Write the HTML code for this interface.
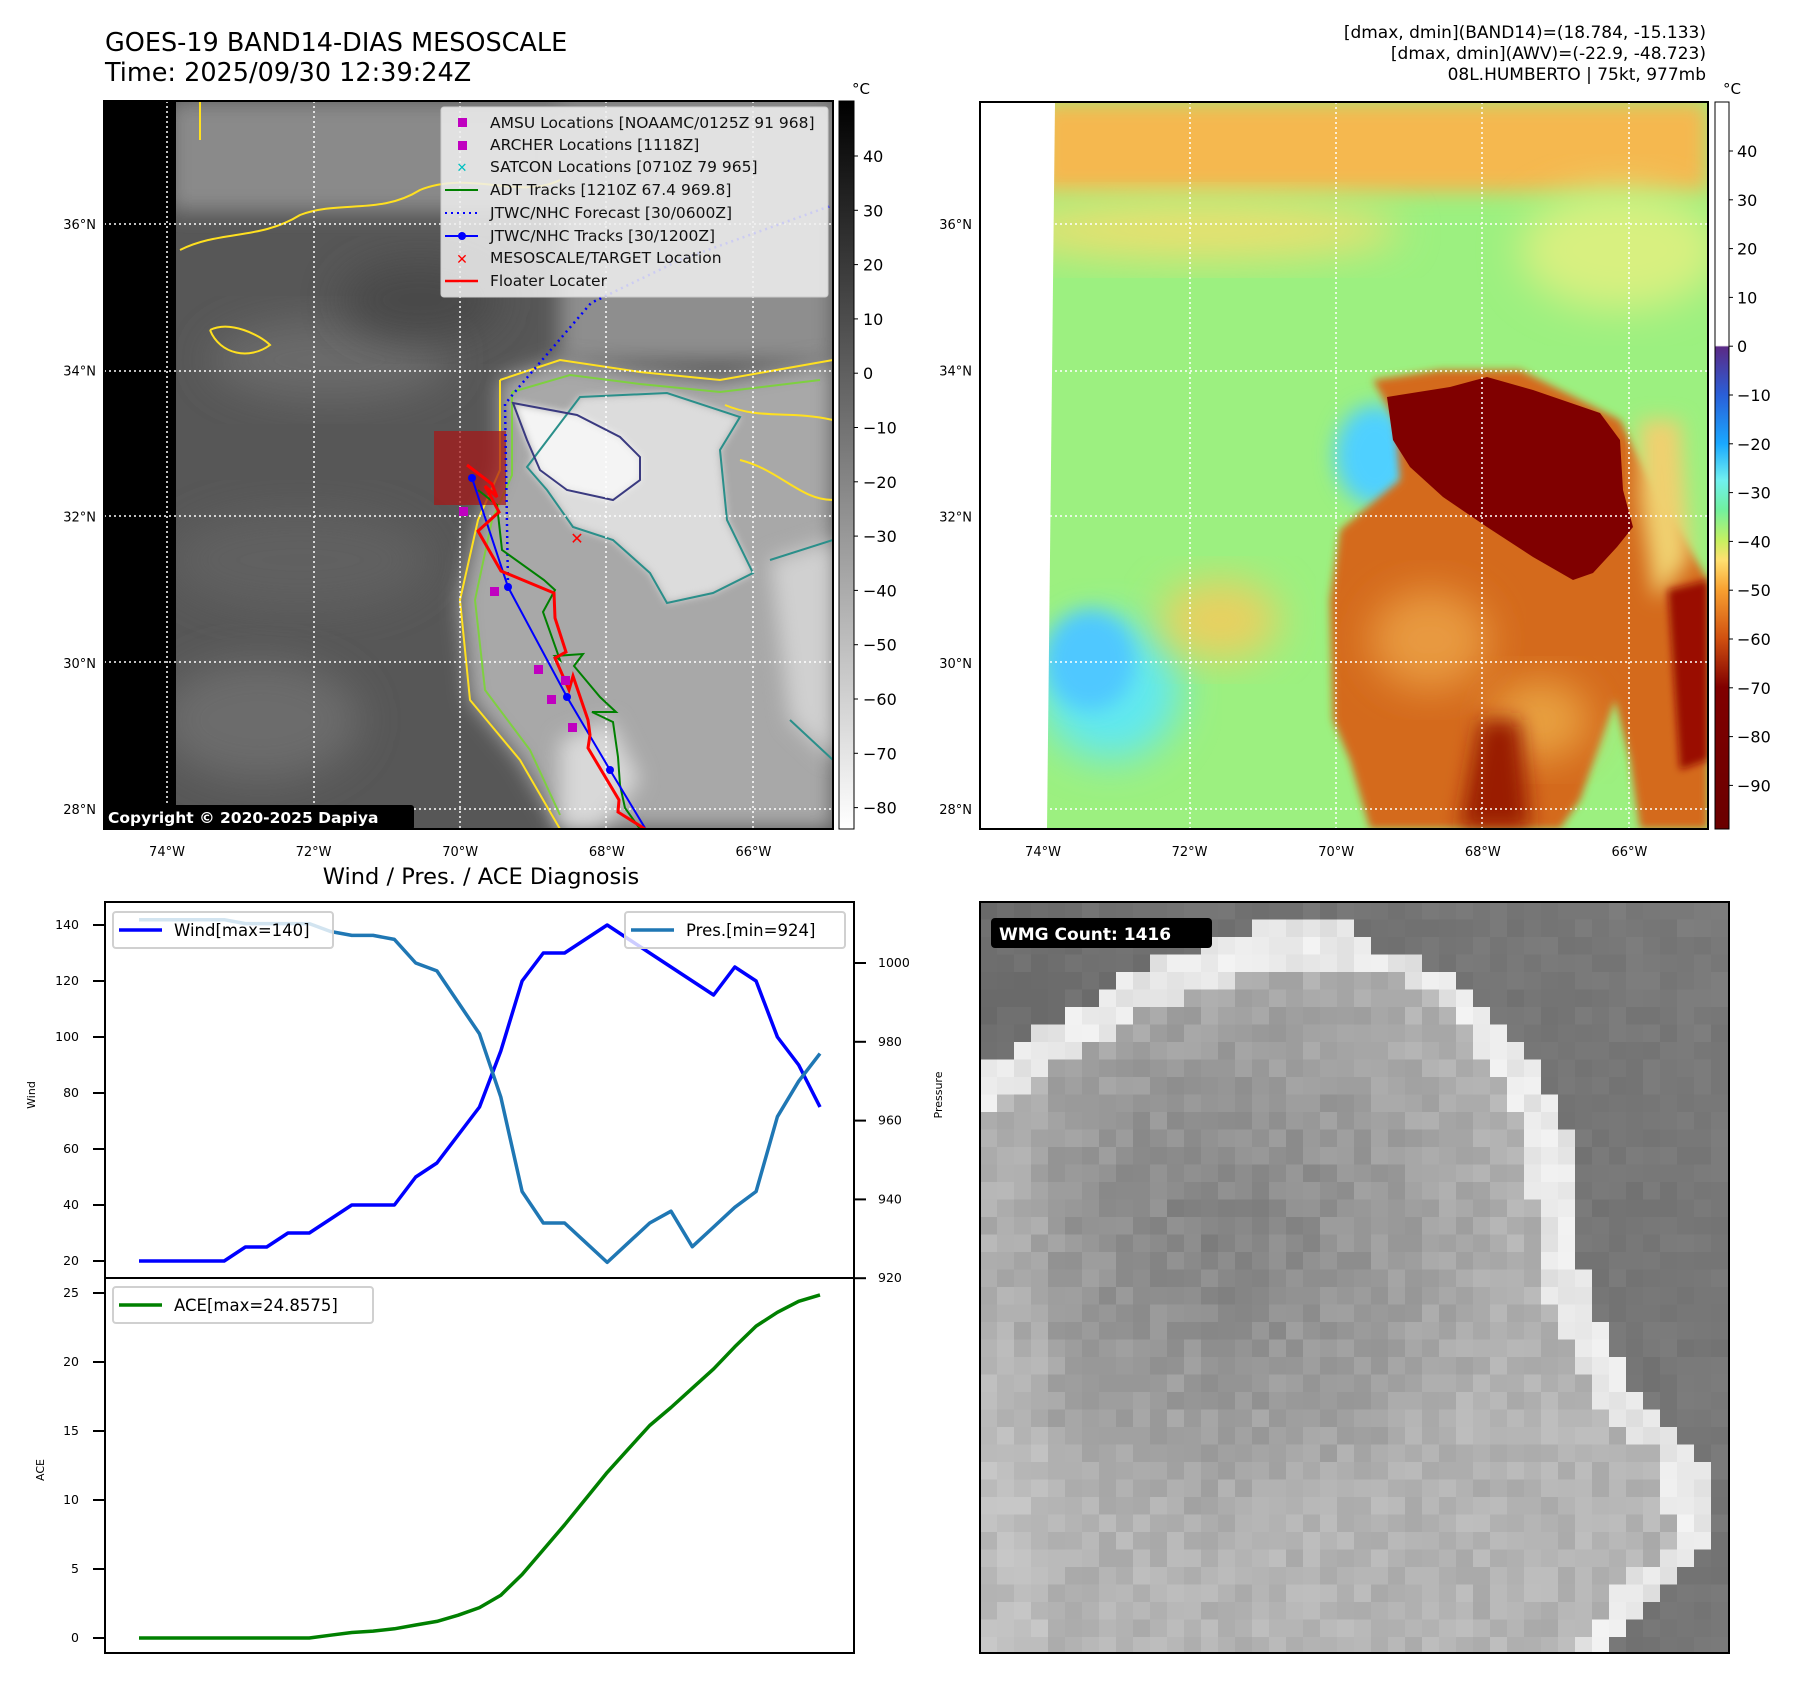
<!DOCTYPE html>
<html><head><meta charset="utf-8">
<style>
html,body{margin:0;padding:0;background:#fff;}
body{width:1797px;height:1690px;position:relative;overflow:hidden;font-family:"DejaVu Sans","Liberation Sans",sans-serif;}
svg text{font-family:"DejaVu Sans","Liberation Sans",sans-serif;}
</style></head>
<body>
<svg id="fig" width="1797" height="1690" viewBox="0 0 1797 1690" xmlns="http://www.w3.org/2000/svg">
<defs>
  <filter id="b4" x="-20%" y="-20%" width="140%" height="140%"><feGaussianBlur stdDeviation="4"/></filter>
  <filter id="b10" x="-30%" y="-30%" width="160%" height="160%"><feGaussianBlur stdDeviation="10"/></filter>
  <filter id="b20" x="-30%" y="-30%" width="160%" height="160%"><feGaussianBlur stdDeviation="20"/></filter>
  <clipPath id="c1"><rect x="104" y="101" width="729" height="728"/></clipPath>
  <clipPath id="c2"><rect x="980" y="102" width="728" height="727"/></clipPath>
  <clipPath id="c3"><rect x="980" y="902" width="749" height="751"/></clipPath>
  <linearGradient id="gGray" x1="0" y1="0" x2="0" y2="1"><stop offset="0" stop-color="#000"/><stop offset="1" stop-color="#fff"/></linearGradient>
  <linearGradient id="gJet" x1="0" y1="0" x2="0" y2="1">
    <stop offset="0" stop-color="#fff"/><stop offset="0.335" stop-color="#fff"/>
    <stop offset="0.337" stop-color="#5b2a86"/><stop offset="0.403" stop-color="#2a5fd8"/>
    <stop offset="0.47" stop-color="#1aa8ff"/><stop offset="0.52" stop-color="#70f0f0"/>
    <stop offset="0.56" stop-color="#70f0a0"/><stop offset="0.604" stop-color="#c8f060"/>
    <stop offset="0.63" stop-color="#ffe070"/><stop offset="0.671" stop-color="#f8a030"/>
    <stop offset="0.738" stop-color="#d05010"/><stop offset="0.805" stop-color="#800000"/>
    <stop offset="1" stop-color="#6a0000"/>
  </linearGradient>
</defs>

<text x="105" y="51" font-size="25.5">GOES-19 BAND14-DIAS MESOSCALE</text>
<text x="105" y="81" font-size="25.5">Time: 2025/09/30 12:39:24Z</text>
<g font-size="17" text-anchor="end">
  <text x="1706" y="38">[dmax, dmin](BAND14)=(18.784, -15.133)</text>
  <text x="1706" y="59">[dmax, dmin](AWV)=(-22.9, -48.723)</text>
  <text x="1706" y="80">08L.HUMBERTO | 75kt, 977mb</text>
</g>

<g clip-path="url(#c1)">
  <rect x="104" y="101" width="729" height="728" fill="#575757"/>
  <rect x="170" y="101" width="663" height="110" fill="#8a8a8a" filter="url(#b10)"/>
  <ellipse cx="330" cy="360" rx="120" ry="40" fill="#6a6a6a" filter="url(#b20)"/>
  <ellipse cx="300" cy="560" rx="130" ry="50" fill="#606060" filter="url(#b20)"/>
  <ellipse cx="260" cy="720" rx="100" ry="60" fill="#6c6c6c" filter="url(#b20)"/>
  <ellipse cx="420" cy="300" rx="80" ry="40" fill="#4a4a4a" filter="url(#b20)"/>
  <rect x="560" y="101" width="273" height="260" fill="#8e8e8e" filter="url(#b10)"/>
  <path d="M500,380 L560,360 L640,372 L720,380 L833,360 L833,829 L560,829 L520,760 L470,700 L460,600 L478,520 L500,470 Z" fill="#a8a8a8" filter="url(#b10)"/>
  <path d="M580,397 L667,393 L740,417 L720,450 L727,520 L753,573 L713,593 L667,603 L650,573 L613,540 L573,527 L547,490 L527,467 Z" fill="#dcdcdc" filter="url(#b4)"/>
  <path d="M770,560 L833,540 L833,760 L790,720 Z" fill="#d0d0d0" filter="url(#b10)"/>
  <path d="M560,740 L610,720 L640,780 L600,829 L560,829 Z" fill="#d8d8d8" filter="url(#b10)"/>
  <path d="M513,403 L577,415 L620,437 L640,457 L640,480 L613,500 L567,490 L540,470 L527,440 Z" fill="#f4f4f4" filter="url(#b4)"/>
  <rect x="104" y="101" width="72" height="728" fill="#000"/>
  <path d="M500,380 L560,360 L640,372 L720,380 L833,360 M833,829 L560,829 L520,760 L470,700 L460,600 L478,520 L500,470 L500,380" fill="none" stroke="#ffe020" stroke-width="2"/>
  <path d="M512,392 L570,375 L640,384 L720,392 L820,380 M560,815 L530,750 L485,690 L475,600 L492,520 L512,475 L512,392" fill="none" stroke="#7ed040" stroke-width="2"/>
  <path d="M580,397 L667,393 L740,417 L720,450 L727,520 L753,573 L713,593 L667,603 L650,573 L613,540 L573,527 L547,490 L527,467 Z" fill="none" stroke="#2a8f8a" stroke-width="2"/>
  <path d="M513,403 L577,415 L620,437 L640,457 L640,480 L613,500 L567,490 L540,470 L527,440 Z" fill="none" stroke="#3a3a80" stroke-width="2"/>
  <path d="M180,250 C220,230 260,240 300,215 C340,200 380,215 420,190 C470,170 520,200 560,180 M210,330 C230,320 260,335 270,345 C250,360 220,355 210,330 M200,101 L200,140" fill="none" stroke="#ffe020" stroke-width="2"/>
  <path d="M770,560 L833,540 M790,720 L833,760" fill="none" stroke="#2a8f8a" stroke-width="2"/>
  <path d="M725,405 C760,420 790,410 833,420 M740,460 C780,470 800,500 833,500" fill="none" stroke="#ffe020" stroke-width="2"/>
  <g stroke="#fff" stroke-width="1.5" stroke-dasharray="2,3">
    <line x1="167" y1="101" x2="167" y2="829"/><line x1="314" y1="101" x2="314" y2="829"/><line x1="460" y1="101" x2="460" y2="829"/><line x1="606" y1="101" x2="606" y2="829"/><line x1="753" y1="101" x2="753" y2="829"/>
    <line x1="104" y1="224" x2="833" y2="224"/><line x1="104" y1="371" x2="833" y2="371"/><line x1="104" y1="516" x2="833" y2="516"/><line x1="104" y1="662" x2="833" y2="662"/><line x1="104" y1="809" x2="833" y2="809"/>
  </g>
  <rect x="434" y="431" width="72" height="74" fill="rgba(170,20,20,0.7)"/>
  <polyline points="508,586 505,404 519,387 591,303 680,260 833,205" fill="none" stroke="#0000ff" stroke-width="2.5" stroke-dasharray="2,4"/>
  <polyline points="478,490 497,505 502,550 544,580 555,590 543,612 560,660 555,656 583,654 574,666 600,697 616,712 592,712 613,722 618,757 620,785 625,808 640,829" fill="none" stroke="#008000" stroke-width="2"/>
  <polyline points="472,478 508,587 567,697 610,770 645,828" fill="none" stroke="#0000ff" stroke-width="2"/>
  <g fill="#0000ff"><circle cx="472" cy="478" r="4"/><circle cx="508" cy="587" r="4"/><circle cx="567" cy="697" r="4"/><circle cx="610" cy="770" r="4"/></g>
  <polyline points="467,465 492,484 497,497 485,486 499,512 478,531 501,571 554,593 555,618 566,652 555,658 569,690 573,676 588,720 590,735 588,748 619,800 618,812 645,829" fill="none" stroke="#ff0000" stroke-width="3"/>
  <g fill="#c000c0">
    <rect x="459" y="507" width="9" height="9"/><rect x="490" y="587" width="9" height="9"/><rect x="534" y="665" width="9" height="9"/><rect x="547" y="695" width="9" height="9"/><rect x="568" y="723" width="9" height="9"/><rect x="561" y="676" width="9" height="9"/>
  </g>
  <text x="577" y="544" font-size="16" font-weight="bold" fill="#ff0000" text-anchor="middle">✕</text>
</g>
<rect x="104" y="101" width="729" height="728" fill="none" stroke="#000" stroke-width="2"/>
<g>
  <rect x="441" y="107" width="387" height="190" rx="3" fill="rgba(240,240,240,0.85)" stroke="#ccc"/>
  <rect x="458" y="118" width="9" height="9" fill="#c000c0"/>
  <rect x="458" y="141" width="9" height="9" fill="#c000c0"/>
  <text x="462" y="172" font-size="13" font-weight="bold" fill="#00c0c0" text-anchor="middle">✕</text>
  <line x1="445" y1="190" x2="478" y2="190" stroke="#008000" stroke-width="2"/>
  <line x1="445" y1="213" x2="478" y2="213" stroke="#0000ff" stroke-width="2" stroke-dasharray="2,4"/>
  <line x1="445" y1="236" x2="478" y2="236" stroke="#0000ff" stroke-width="2"/><circle cx="462" cy="236" r="4" fill="#0000ff"/>
  <text x="462" y="264" font-size="14" font-weight="bold" fill="#ff0000" text-anchor="middle">✕</text>
  <line x1="445" y1="281" x2="478" y2="281" stroke="#ff0000" stroke-width="2.5"/>
  <g font-size="15.5" fill="#111">
    <text x="490" y="128">AMSU Locations [NOAAMC/0125Z 91 968]</text>
    <text x="490" y="150">ARCHER Locations [1118Z]</text>
    <text x="490" y="172">SATCON Locations [0710Z 79 965]</text>
    <text x="490" y="195">ADT Tracks [1210Z 67.4 969.8]</text>
    <text x="490" y="218">JTWC/NHC Forecast [30/0600Z]</text>
    <text x="490" y="241">JTWC/NHC Tracks [30/1200Z]</text>
    <text x="490" y="263">MESOSCALE/TARGET Location</text>
    <text x="490" y="286">Floater Locater</text>
  </g>
</g>
<g>
  <rect x="104" y="805" width="310" height="25" rx="3" fill="#000"/>
  <text x="108" y="823" font-size="15.5" font-weight="bold" fill="#fff">Copyright © 2020-2025 Dapiya</text>
</g>
<rect x="839" y="101" width="15" height="728" fill="url(#gGray)" stroke="#000" stroke-width="1"/>
<text x="852" y="94" font-size="15">°C</text>
<g id="cb1" font-size="16"></g>

<g clip-path="url(#c2)">
  <rect x="980" y="102" width="728" height="727" fill="#9cf080"/>
  <rect x="1040" y="102" width="668" height="90" fill="#f5b850" filter="url(#b10)"/>
  <ellipse cx="1200" cy="230" rx="200" ry="30" fill="#e8e070" filter="url(#b20)"/>
  <ellipse cx="1620" cy="250" rx="100" ry="60" fill="#d8f080" filter="url(#b20)"/>
  <ellipse cx="1110" cy="690" rx="70" ry="70" fill="#60e8f0" filter="url(#b20)"/>
  <ellipse cx="1090" cy="660" rx="45" ry="50" fill="#50c8ff" filter="url(#b10)"/>
  <ellipse cx="1375" cy="455" rx="40" ry="50" fill="#50d0ff" filter="url(#b10)"/>
  <ellipse cx="1220" cy="620" rx="60" ry="40" fill="#e8d060" filter="url(#b20)"/>
  <path d="M1373,380 L1440,370 L1520,370 L1620,420 L1660,500 L1708,580 L1708,829 L1640,829 L1630,760 L1615,700 L1580,800 L1560,829 L1370,829 L1350,760 L1333,720 L1330,600 L1340,530 L1400,480 L1395,420 Z" fill="#d46a1a" filter="url(#b4)"/>
  <ellipse cx="1430" cy="640" rx="60" ry="50" fill="#e89a40" filter="url(#b20)"/>
  <ellipse cx="1540" cy="720" rx="50" ry="40" fill="#e8a040" filter="url(#b20)"/>
  <path d="M1640,420 L1680,420 L1690,560 L1655,600 L1640,500 Z" fill="#f0d070" filter="url(#b10)"/>
  <path d="M1387,397 L1450,387 L1487,377 L1533,390 L1600,413 L1620,440 L1623,490 L1633,527 L1617,547 L1593,573 L1573,580 L1533,557 L1487,527 L1443,497 L1410,467 L1393,440 Z" fill="#800000"/>
  <path d="M1480,720 L1520,720 L1530,829 L1460,829 Z" fill="#9a1a00" filter="url(#b10)"/>
  <path d="M1668,590 L1708,580 L1708,760 L1680,770 Z" fill="#9a1000" filter="url(#b4)"/>
  <path d="M980,102 L1055,102 L1047,829 L980,829 Z" fill="#fff"/>
  <g stroke="#fff" stroke-width="1.5" stroke-dasharray="2,3">
    <line x1="1043" y1="102" x2="1043" y2="829"/><line x1="1190" y1="102" x2="1190" y2="829"/><line x1="1336" y1="102" x2="1336" y2="829"/><line x1="1482" y1="102" x2="1482" y2="829"/><line x1="1629" y1="102" x2="1629" y2="829"/>
    <line x1="980" y1="224" x2="1708" y2="224"/><line x1="980" y1="371" x2="1708" y2="371"/><line x1="980" y1="516" x2="1708" y2="516"/><line x1="980" y1="662" x2="1708" y2="662"/><line x1="980" y1="809" x2="1708" y2="809"/>
  </g>
</g>
<rect x="980" y="102" width="728" height="727" fill="none" stroke="#000" stroke-width="2"/>
<rect x="1715" y="102" width="14" height="727" fill="url(#gJet)" stroke="#000" stroke-width="1"/>
<text x="1723" y="94" font-size="15">°C</text>
<g id="cb2" font-size="16"></g>
<g id="maplabels" font-size="13"></g>

<text x="481" y="884" font-size="22.5" text-anchor="middle">Wind / Pres. / ACE Diagnosis</text>
<g id="chart"></g>

<g id="wmg" clip-path="url(#c3)"></g>
<rect x="980" y="902" width="749" height="751" fill="none" stroke="#000" stroke-width="2"/>
<g>
  <rect x="991" y="918" width="221" height="30" rx="4" fill="#000"/>
  <text x="999" y="940" font-size="17" font-weight="bold" fill="#fff">WMG Count: 1416</text>
</g>
</svg>
<script>
const NS='http://www.w3.org/2000/svg';
function mk(parent,tag,attrs,txt){const e=document.createElementNS(NS,tag);for(const k in attrs)e.setAttribute(k,attrs[k]);if(txt!==undefined)e.textContent=txt;parent.appendChild(e);return e;}

const windVals=[20,20,20,20,20,25,25,30,30,35,40,40,40,50,55,65,75,95,120,130,130,135,140,135,130,125,120,115,125,120,100,90,75];
const presVals=[1011,1011,1011,1011,1011,1010,1010,1010,1010,1008,1007,1007,1006,1000,998,990,982,966,942,934,934,929,924,929,934,937,928,933,938,942,961,970,977];
const aceVals=[0,0,0,0,0,0,0,0,0,0.2,0.4,0.5,0.67,0.94,1.2,1.65,2.2,3.1,4.6,6.4,8.2,10.1,12.0,13.7,15.4,16.7,18.1,19.5,21.1,22.6,23.6,24.4,24.86];
const windTicks=[20,40,60,80,100,120,140];
const presTicks=[920,940,960,980,1000];
const aceTicks=[0,5,10,15,20,25];

const AX_L=105, AX_R=854, TOP=902, MID=1278, BOT=1653;
function xScale(i){const n=windVals.length-1, lo=-0.05*n, hi=n*1.05;return AX_L+(AX_R-AX_L)*(i-lo)/(hi-lo);}
function yWind(v){return 1261-(v-20)*2.8;}
function yPres(v){return 963+(1000-v)*3.94;}
function yAce(v){return 1638-v*13.8;}

const chart=document.getElementById('chart');
mk(chart,'rect',{x:AX_L,y:TOP,width:AX_R-AX_L,height:BOT-TOP,fill:'#fff'});
function line(vals,ys,color,w,name){
  const pts=vals.map((v,i)=>xScale(i).toFixed(1)+','+ys(v).toFixed(1)).join(' ');
  const p=mk(chart,'polyline',{points:pts,fill:'none',stroke:color,'stroke-width':w,'stroke-linejoin':'round'});
  
  
}
line(windVals,yWind,'#0000ff',3.5,'wind-line');
line(presVals,yPres,'#1f77b4',3.5,'pressure-line');
line(aceVals,yAce,'#008000',3.5,'ace-line');
mk(chart,'rect',{x:AX_L,y:TOP,width:AX_R-AX_L,height:BOT-TOP,fill:'none',stroke:'#000','stroke-width':2});
mk(chart,'line',{x1:AX_L,y1:MID,x2:AX_R,y2:MID,stroke:'#000','stroke-width':2});
windTicks.forEach(t=>{const y=yWind(t);mk(chart,'line',{x1:AX_L-12,y1:y,x2:AX_L,y2:y,stroke:'#000','stroke-width':2});
  const tx=mk(chart,'text',{x:AX_L-26,y:y+4,'font-size':12.5,'text-anchor':'end'},String(t));
  
  });
presTicks.forEach(t=>{const y=yPres(t);mk(chart,'line',{x1:AX_R,y1:y,x2:AX_R+12,y2:y,stroke:'#000','stroke-width':2});
  const tx=mk(chart,'text',{x:AX_R+24,y:y+4,'font-size':12.5},String(t));
  
  });
aceTicks.forEach(t=>{const y=yAce(t);mk(chart,'line',{x1:AX_L-12,y1:y,x2:AX_L,y2:y,stroke:'#000','stroke-width':2});
  const tx=mk(chart,'text',{x:AX_L-26,y:y+4,'font-size':12.5,'text-anchor':'end'},String(t));
  
  });
let yl=mk(chart,'text',{x:0,y:0,'font-size':11,'text-anchor':'middle',transform:'translate(35,1095) rotate(-90)'},'Wind');


yl=mk(chart,'text',{x:0,y:0,'font-size':11,'text-anchor':'middle',transform:'translate(44,1470) rotate(-90)'},'ACE');


yl=mk(chart,'text',{x:0,y:0,'font-size':11,'text-anchor':'middle',transform:'translate(942,1095) rotate(-90)'},'Pressure');


function legend(x,y,w,color,label,name){
  const g=mk(chart,'g',{});
  
  
  mk(g,'rect',{x:x,y:y,width:w,height:36,rx:3,fill:'rgba(255,255,255,0.8)',stroke:'#d0d0d0','stroke-width':2});
  mk(g,'line',{x1:x+6,y1:y+18,x2:x+49,y2:y+18,stroke:color,'stroke-width':3.5});
  mk(g,'text',{x:x+61,y:y+24,'font-size':16.5},label);
}
legend(113,912,220,'#0000ff','Wind[max=140]','wind-legend');
legend(625,912,220,'#1f77b4','Pres.[min=924]','pressure-legend');
legend(113,1287,260,'#008000','ACE[max=24.8575]','ace-legend');

const cb1Ticks=[40,30,20,10,0,-10,-20,-30,-40,-50,-60,-70,-80];
const cb2Ticks=[40,30,20,10,0,-10,-20,-30,-40,-50,-60,-70,-80,-90];
function cb1Y(v){return 156+(40-v)*5.43;}
function cb2Y(v){return 151+(40-v)*4.88;}
const cb1=document.getElementById('cb1'), cb2=document.getElementById('cb2');
cb1Ticks.forEach(t=>{const y=cb1Y(t);mk(cb1,'line',{x1:854,y1:y,x2:858,y2:y,stroke:'#000'});mk(cb1,'text',{x:863,y:y+6},t<0?'\u2212'+(-t):String(t));});
cb2Ticks.forEach(t=>{const y=cb2Y(t);mk(cb2,'line',{x1:1729,y1:y,x2:1733,y2:y,stroke:'#000'});mk(cb2,'text',{x:1737,y:y+6},t<0?'\u2212'+(-t):String(t));});

const lonLabels=['74°W','72°W','70°W','68°W','66°W'];
const latLabels=['36°N','34°N','32°N','30°N','28°N'];
function lonX(i){return 167+i*146.6;}
function latY(i){return 224+i*146.3;}
const ml=document.getElementById('maplabels');
[0,876].forEach(off=>{
  lonLabels.forEach((l,i)=>mk(ml,'text',{x:lonX(i)+off,y:856,'text-anchor':'middle'},l));
  latLabels.forEach((l,i)=>mk(ml,'text',{x:off+96,y:latY(i)+5,'text-anchor':'end'},l));
});

const wmg=document.getElementById('wmg');
const topPts=[[0,165],[60,130],[100,105],[170,60],[290,20],[345,20]];
const rightPts=[[0,345],[45,400],[75,470],[100,500],[140,540],[200,580],[280,595],[380,605],[500,660],[560,730],[640,735],[680,690],[751,630]];
function interp(pts,v){if(v<=pts[0][0])return pts[0][1];for(let k=1;k<pts.length;k++){if(v<=pts[k][0]){const a=pts[k-1],b=pts[k];return a[1]+(b[1]-a[1])*(v-a[0])/(b[0]-a[0]);}}return pts[pts.length-1][1];}
function hash(a,b){let h=(a*374761393+b*668265263)>>>0;h=(h^(h>>>13))*1274126177>>>0;return ((h^(h>>>16))>>>0)/4294967296;}
const CW=17, CH=17.5;
for(let r=0;r<43;r++){for(let c=0;c<45;c++){
  const px=c*CW+CW/2, py=r*CH+CH/2;
  const te = px<345 ? interp(topPts,px) : 20;
  const re = interp(rightPts,py);
  let g;
  const n=hash(c,r)-0.5;
  if(py>te && px<re){
    const d=Math.min(py-te,re-px);
    if(d<45){g=232+n*22;}
    else{const dist=Math.hypot(px-240,py-330);g=128+Math.min(dist,320)*0.16+n*22;if(px<60)g+=10;}
  }else{g=110+n*10+(px/749)*12-(py/751)*4;}
  g=Math.max(0,Math.min(250,Math.round(g)));
  mk(wmg,'rect',{x:(980+c*CW).toFixed(1),y:(902+r*CH).toFixed(1),width:CW+0.6,height:CH+0.6,fill:`rgb(${g},${g},${g})`});
}}
</script>
</body></html>
